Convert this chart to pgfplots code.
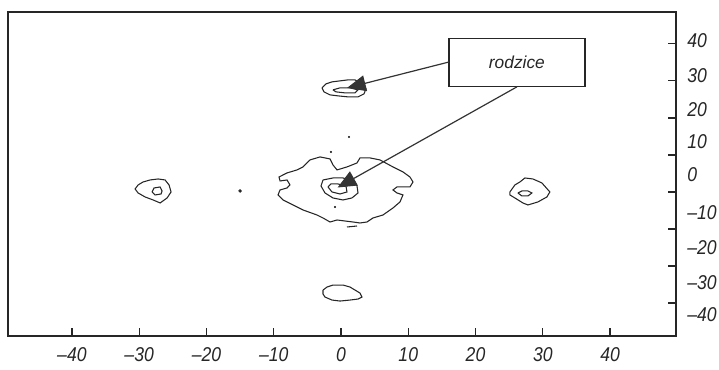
\documentclass[border=0pt]{standalone}
\usepackage{fontspec}
\setmainfont{Liberation Sans}
\newfontfamily\tickfont[FakeStretch=0.88]{Liberation Sans}
\usepackage{pgfplots}
\pgfplotsset{compat=1.18}
\usetikzlibrary{arrows.meta}
\begin{document}
\begin{tikzpicture}
\useasboundingbox (-6pt,-24.75pt) rectangle (533.25pt,252pt);
\begin{axis}[
  scale only axis, width=501pt, height=243pt,
  xmin=-49.5, xmax=49.8, ymin=-38.9, ymax=48.6,
  axis line style={line width=1.1pt, black!85},
  tick align=inside,
  xtick pos=lower, ytick pos=right,
  xtick={-40,-30,-20,-10,0,10,20,30,40},
  xticklabels={\textendash40,\textendash30,\textendash20,\textendash10,0,10,20,30,40},
  ytick={-30,-20,-10,0,10,20,30,40},
  yticklabels={},
  extra y ticks={40.8,31.4,22.2,13.5,4.6,-5.7,-15.1,-24.6,-33.2},
  extra y tick labels={40,30,20,10,0,\textendash10,\textendash20,\textendash30,\textendash40},
  extra y tick style={tick style={draw=none}, yticklabel style={anchor=west, xshift=5pt}},
  major tick length=6pt,
  tick style={draw=black!85, line width=0.9pt},
  ticklabel style={font=\tickfont\itshape\fontsize{15}{17}\selectfont, text=black!85},
  xticklabel style={yshift=-5pt},
  yticklabel pos=right,
  clip=false,
]
% central outer contour
\addplot[black!85, line width=0.8pt] coordinates {
(-4.61,8.65) (-3.12,9.46) (-1.63,8.92) (-1.19,7.30) (-0.59,5.95) (0.89,6.76)
(2.38,7.84) (2.82,9.19) (4.31,9.19) (5.79,8.65) (7.73,6.76) (9.21,5.41)
(10.25,4.05) (10.70,2.70) (10.25,1.35) (8.32,1.35) (7.73,0.54) (8.32,-0.27)
(9.21,-0.81) (8.77,-2.70) (7.73,-4.32) (6.24,-6.22) (4.75,-7.03) (3.86,-8.11)
(2.82,-8.38) (1.78,-8.11) (0.59,-7.84) (-0.59,-7.57) (-1.63,-8.11) (-2.67,-7.03)
(-3.57,-6.22) (-5.65,-4.86) (-7.13,-3.51) (-8.62,-2.16) (-9.36,-0.81) (-9.06,0.54)
(-8.02,1.08) (-7.58,1.89) (-8.02,3.24) (-9.06,2.97) (-9.21,4.05) (-8.02,5.14)
(-6.54,5.95) (-5.65,6.76) (-5.05,7.84) (-4.61,8.65)};
% central middle ring
\addplot[black!85, line width=0.8pt] coordinates {
(-2.67,3.24) (-2.97,1.62) (-2.38,-0.27) (-1.19,-1.62) (0.30,-2.16) (1.63,-1.62)
(2.53,-0.27) (2.38,1.62) (1.63,2.97) (0.30,3.78) (-1.19,3.78) (-2.67,3.24)};
% central inner ring
\addplot[black!85, line width=0.8pt] coordinates {
(-1.93,1.35) (-1.34,0) (-0.15,-0.54) (0.89,0) (0.74,1.62) (-0.45,2.16) (-1.49,2.16) (-1.93,1.35)};
% short dash below centre
\addplot[black!85, line width=0.8pt] coordinates {(0.89,-9.46) (2.38,-9.19)};
% top spot
\addplot[black!85, line width=0.8pt] coordinates {
(-2.82,28.11) (-2.23,29.19) (-1.34,29.73) (-0.15,30.0) (1.04,30.27) (2.08,30.27)
(3.12,29.19) (3.71,27.84) (3.42,26.49) (2.53,25.68) (1.04,25.68) (-0.45,25.95)
(-1.63,26.22) (-2.53,27.03) (-2.82,28.11)};
\addplot[black!85, line width=0.8pt] coordinates {
(-1.19,27.57) (-0.15,28.11) (1.34,28.11) (2.53,27.57) (2.08,26.76) (0.59,26.76) (-0.74,27.03) (-1.19,27.57)};
% left spot
\addplot[black!85, line width=0.8pt] coordinates {
(-30.16,1.89) (-29.42,2.70) (-28.38,3.24) (-27.19,3.51) (-26.15,3.24) (-25.56,1.89)
(-25.26,0) (-25.85,-1.62) (-26.89,-2.97) (-27.93,-2.16) (-29.12,-1.35) (-30.16,-0.27)
(-30.61,0.81) (-30.16,1.89)};
\addplot[black!85, line width=0.8pt] coordinates {
(-28.08,0) (-27.79,1.08) (-26.89,1.35) (-26.60,0.27) (-26.75,-0.54) (-27.64,-0.81) (-28.08,0)};
% right spot
\addplot[black!85, line width=0.8pt] coordinates {
(25.11,0) (25.85,1.89) (26.60,2.70) (27.34,3.78) (28.53,3.51) (29.87,2.43)
(31.05,0) (30.61,-1.35) (29.27,-2.70) (27.79,-3.51) (27.04,-2.97) (25.85,-1.62)
(25.11,-0.81) (25.11,0)};
\addplot[black!85, line width=0.8pt] coordinates {
(26.30,-0.27) (26.89,0.27) (27.79,0.27) (28.38,-0.27) (27.79,-1.08) (26.89,-1.08) (26.30,-0.27)};
% bottom spot
\addplot[black!85, line width=0.8pt] coordinates {
(-2.67,-26.49) (-2.08,-25.68) (-1.19,-25.14) (0.30,-25.14) (1.34,-25.68) (2.08,-26.49)
(2.82,-27.30) (3.12,-28.38) (2.53,-28.92) (1.34,-29.19) (-0.15,-29.46) (-1.34,-29.19)
(-2.38,-28.38) (-2.67,-27.57) (-2.67,-26.49)};
% isolated dots
\addplot[only marks, mark=*, mark size=0.6pt, black!85] coordinates {
(-1.49,10.81) (1.19,14.86) (-0.89,-4.05)};
\addplot[only marks, mark=*, mark size=1.1pt, black!85] coordinates {(-15.0,0.27)};
% annotation
\draw[black!85, line width=0.9pt] (axis cs:16.05,28.38) rectangle (axis cs:36.26,41.35);
\node[font=\itshape\fontsize{13}{15}\selectfont, text=black!85] at (axis cs:26.15,34.9) {rodzice};
\draw[black!80, line width=0.9pt, -{Triangle[length=14pt,width=12pt]}] (axis cs:16.05,35.1) -- (axis cs:0.9,28.1);
\draw[black!80, line width=0.9pt, -{Triangle[length=14pt,width=12pt]}] (axis cs:26.15,28.38) -- (axis cs:-0.5,1.2);
\end{axis}
\end{tikzpicture}
\end{document}
